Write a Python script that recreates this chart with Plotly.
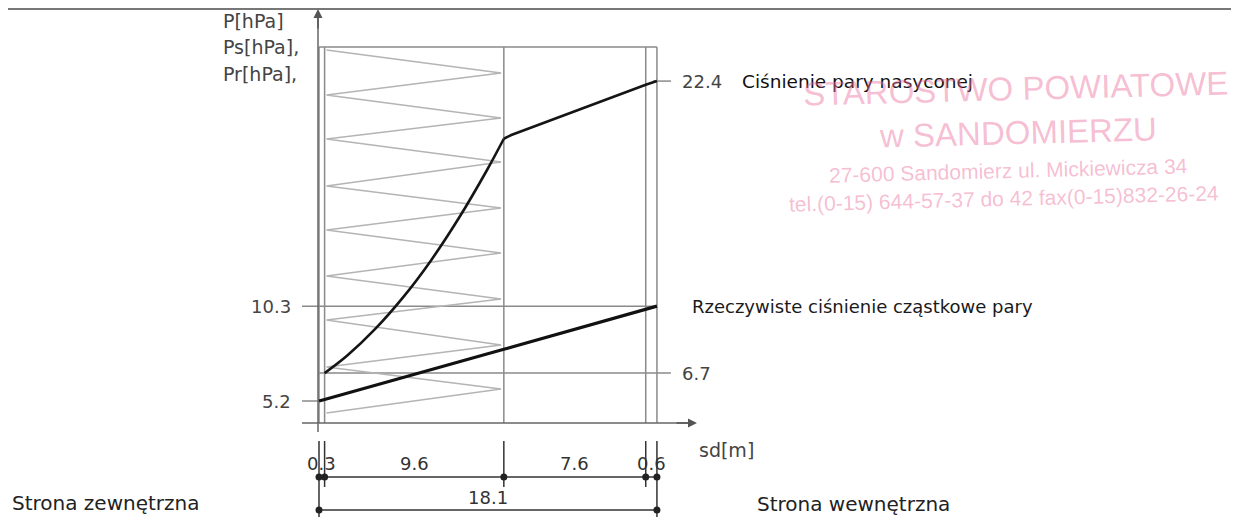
import numpy as np
import plotly.graph_objects as go

# ── data ──
layer_sd = [0.3, 9.6, 7.6, 0.6]              # sd of each layer [m]
bounds = [0.0] + [round(float(v), 2) for v in np.cumsum(layer_sd)]
sd_total = 18.1

# saturation pressure Ps: curved part inside the insulation, then straight part
ps_curve_sd = [0.3, 1.5, 3.0, 4.5, 6.0, 7.5, 9.0, 9.9]
ps_curve_val = [6.7, 7.63, 9.06, 10.77, 12.76, 15.05, 17.62, 19.3]
ps_line_sd = [9.9, 10.3, 17.5, 18.1]
ps_line_val = [19.3, 19.5, 22.2, 22.4]

# actual partial pressure Pr at layer boundaries
pr_sd = bounds
pr_val = [5.2, 5.28, 7.98, 10.13, 10.3]

# insulation hatch (zig-zag) vertices
zig_p = [24.07, 22.83, 21.65, 20.42, 19.29, 18.05, 16.76, 15.58, 14.39,
         13.16, 11.92, 10.68, 9.55, 8.21, 7.03, 5.85, 4.55]
zig_sd = [0.4 if i % 2 == 0 else 9.75 for i in range(len(zig_p))]

left_ticks = [5.2, 10.3]
right_ticks = [6.7, 22.4]

# ── page pixel <-> data mapping (1239 x 528 window, 8px body margin) ──
W, H, M = 1239, 528, 8
X0, Y0 = 319, 401          # page pixel of (sd=0, P=5.2)
PXM, PXP = 18.67, 18.6     # px per m, px per hPa


def P(ypx):
    return 5.2 + (Y0 - ypx) / PXP


def S(xpx):
    return (xpx - X0) / PXM


GRID = "#8a8a8a"
ZIG = "#b4b4b4"
TXT = "#444444"
FONT = "DejaVu Sans"

fig = go.Figure()

fig.add_trace(go.Scatter(x=zig_sd, y=zig_p, mode="lines",
                         line=dict(color=ZIG, width=1.5), hoverinfo="skip"))
fig.add_trace(go.Scatter(x=ps_curve_sd, y=ps_curve_val, mode="lines",
                         line=dict(color="#151515", width=2.6, shape="spline"),
                         hoverinfo="skip"))
fig.add_trace(go.Scatter(x=ps_line_sd, y=ps_line_val, mode="lines",
                         line=dict(color="#151515", width=2.6), hoverinfo="skip"))
fig.add_trace(go.Scatter(x=pr_sd, y=pr_val, mode="lines",
                         line=dict(color="#111111", width=3.2), hoverinfo="skip"))

shapes = []


def seg(x0, y0, x1, y1, color=GRID, width=1.5):
    shapes.append(dict(type="line", xref="x", yref="y", x0=x0, y0=y0, x1=x1, y1=y1,
                       line=dict(color=color, width=width), layer="below"))


top = P(47)
axis_p = P(423)
for b in bounds:
    seg(b, top, b, axis_p)
seg(bounds[0], top, bounds[-1], top)
seg(S(302), left_ticks[0], 0, left_ticks[0])
seg(S(302), left_ticks[1], sd_total, left_ticks[1])
seg(0, right_ticks[0], S(671), right_ticks[0])
seg(S(653), right_ticks[1], S(671), right_ticks[1])
# axes
seg(S(318), P(432), S(318), P(14), color="#666666", width=1.5)
seg(S(302), axis_p, S(690), axis_p, color="#666666", width=1.5)

# dimension lines
d1, d2 = P(477), P(510)
for b in bounds:
    outer = b in (bounds[0], bounds[-1])
    seg(b, P(441), b, P(517) if outer else P(487), color="#333333", width=1.5)
seg(bounds[0], d1, bounds[-1], d1, color="#333333", width=1.5)
seg(bounds[0], d2, bounds[-1], d2, color="#333333", width=1.5)
fig.add_trace(go.Scatter(x=bounds, y=[d1] * len(bounds), mode="markers",
                         marker=dict(color="#222222", size=7), hoverinfo="skip"))
fig.add_trace(go.Scatter(x=[bounds[0], bounds[-1]], y=[d2, d2], mode="markers",
                         marker=dict(color="#222222", size=7), hoverinfo="skip"))

# sheet frame (top edge)
shapes.append(dict(type="line", xref="paper", yref="paper", x0=0, x1=1,
                   y0=0.998, y1=0.998, line=dict(color="#777777", width=2)))

ann = []


def txt(x, y, s, size=18, color=TXT, xa="left", **kw):
    ann.append(dict(x=x, y=y, xref="x", yref="y", text=s, showarrow=False,
                    xanchor=xa, yanchor="middle",
                    font=dict(family=FONT, size=size, color=color), **kw))


# arrow heads
ann.append(dict(x=S(318), y=P(9), ax=S(318), ay=P(30), xref="x", yref="y",
                axref="x", ayref="y", text="", showarrow=True, arrowhead=2,
                arrowsize=1.2, arrowwidth=1.5, arrowcolor="#555555"))
ann.append(dict(x=S(697), y=axis_p, ax=S(675), ay=axis_p, xref="x", yref="y",
                axref="x", ayref="y", text="", showarrow=True, arrowhead=2,
                arrowsize=1.2, arrowwidth=1.5, arrowcolor="#555555"))

txt(S(221), P(21), "P[hPa]", size=19)
txt(S(221), P(47), "Ps[hPa],", size=19)
txt(S(221), P(74), "Pr[hPa],", size=19)
for v in left_ticks:
    txt(S(293), v, f"{v}", xa="right")
for v in right_ticks:
    txt(S(680), v, f"{v}")
txt(S(740), right_ticks[1], "Ciśnienie pary nasyconej", size=18.5, color="#111111")
txt(S(690), left_ticks[1], "Rzeczywiste ciśnienie cząstkowe pary", color="#1a1a1a")
txt(S(697), P(450), "sd[m]", size=19)

for i, v in enumerate(layer_sd):
    mid = (bounds[i] + bounds[i + 1]) / 2
    txt(mid, P(463), f"{v}", xa="center", color="#333333")
txt(sd_total / 2, P(497), f"{sd_total}", xa="center", color="#333333")

txt(S(10), P(503), "Strona zewnętrzna", size=20, color="#222222")
txt(S(755), P(504), "Strona wewnętrzna", size=20, color="#222222")

# stamp
PINK = "rgba(236,110,155,0.45)"
stamp = [
    (1015, 88, "STAROSTWO POWIATOWE", 33),
    (1018, 132, "w SANDOMIERZU", 33),
    (1008, 170, "27-600 Sandomierz ul. Mickiewicza 34", 21),
    (1004, 198, "tel.(0-15) 644-57-37 do 42 fax(0-15)832-26-24", 21),
]
for cx, cy, s, fs in stamp:
    ann.append(dict(x=S(cx), y=P(cy), xref="x", yref="y", text=s, showarrow=False,
                    xanchor="center", yanchor="middle", textangle=-1.5,
                    font=dict(family="Liberation Sans", size=fs, color=PINK)))

fig.update_layout(
    width=W - 2 * M, height=H - 2 * M, autosize=False,
    margin=dict(l=0, r=0, t=0, b=0),
    paper_bgcolor="white", plot_bgcolor="white",
    showlegend=False,
    xaxis=dict(range=[S(M), S(W - M)], visible=False, fixedrange=True),
    yaxis=dict(range=[P(H - M), P(M)], visible=False, fixedrange=True),
    shapes=shapes, annotations=ann,
)

fig.write_html("out.html")
